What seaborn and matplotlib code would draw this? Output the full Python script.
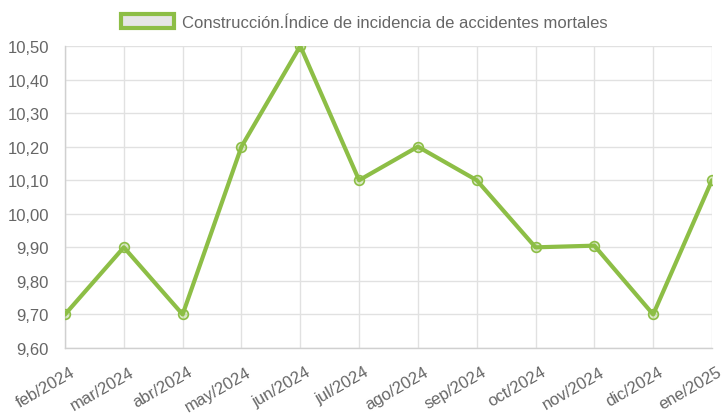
import matplotlib
matplotlib.use("Agg")
import matplotlib.pyplot as plt
import matplotlib.patches as mpatches
import matplotlib.transforms as mtransforms
import seaborn as sns
import pandas as pd
from matplotlib.ticker import FuncFormatter

months = ["feb/2024", "mar/2024", "abr/2024", "may/2024", "jun/2024", "jul/2024",
          "ago/2024", "sep/2024", "oct/2024", "nov/2024", "dic/2024", "ene/2025"]
values = [9.70, 9.90, 9.70, 10.20, 10.50, 10.10, 10.20, 10.10, 9.90, 9.905, 9.70, 10.10]
series_name = "Construcción.Índice de incidencia de accidentes mortales"

sns.set_theme(style="white")
plt.rcParams['font.family'] = ['Liberation Sans', 'DejaVu Sans']

green = "#8DBE46"
grid_c = "#e1e1e1"
text_c = "#666666"

df = pd.DataFrame({"pos": range(len(months)), "value": values})

fig = plt.figure(figsize=(7.24, 4.14), dpi=100)
ax = fig.add_axes([65/724, 1-349/414, (712-65)/724, (349-47)/414])

sns.lineplot(data=df, x="pos", y="value", ax=ax, color=green, linewidth=3,
             marker="o", markersize=7, markerfacecolor=(0.55, 0.75, 0.27, 0.3),
             markeredgecolor=green, markeredgewidth=1.2, zorder=3)

ax.set_xlim(0, len(months)-1)
ax.set_ylim(9.60, 10.50)
ax.set_xticks(range(len(months)))
ax.set_xticklabels(months, rotation=30, ha="right", va="top", rotation_mode="anchor")
ax.set_yticks([9.6 + 0.1*i for i in range(10)])
ax.yaxis.set_major_formatter(FuncFormatter(lambda v, p: f"{v:.2f}".replace(".", ",")))
ax.grid(True, color=grid_c, linewidth=1)
ax.set_axisbelow(True)
ax.tick_params(axis="both", which="both", length=8, color=grid_c, labelcolor=text_c,
               labelsize=12, width=1, pad=3.6)
ax.tick_params(axis="x", pad=3.5)
offset = mtransforms.ScaledTranslation(5/100, 0, fig.dpi_scale_trans)
for lbl in ax.get_xticklabels():
    lbl.set_transform(lbl.get_transform() + offset)
for s in ["top", "right"]:
    ax.spines[s].set_visible(False)
for s in ["left", "bottom"]:
    ax.spines[s].set_color("#d0d0d0")
    ax.spines[s].set_linewidth(1)
ax.set_xlabel("")
ax.set_ylabel("")

handle = mpatches.Patch(facecolor="#e6e6e6", edgecolor=green, linewidth=3, label=series_name)
fig.legend(handles=[handle], loc="center", bbox_to_anchor=(364/724, 1-23/414), frameon=False,
           fontsize=12, labelcolor=text_c, handlelength=3.2, handleheight=0.95, handletextpad=0.45)

fig.savefig("out.png", dpi=100)
